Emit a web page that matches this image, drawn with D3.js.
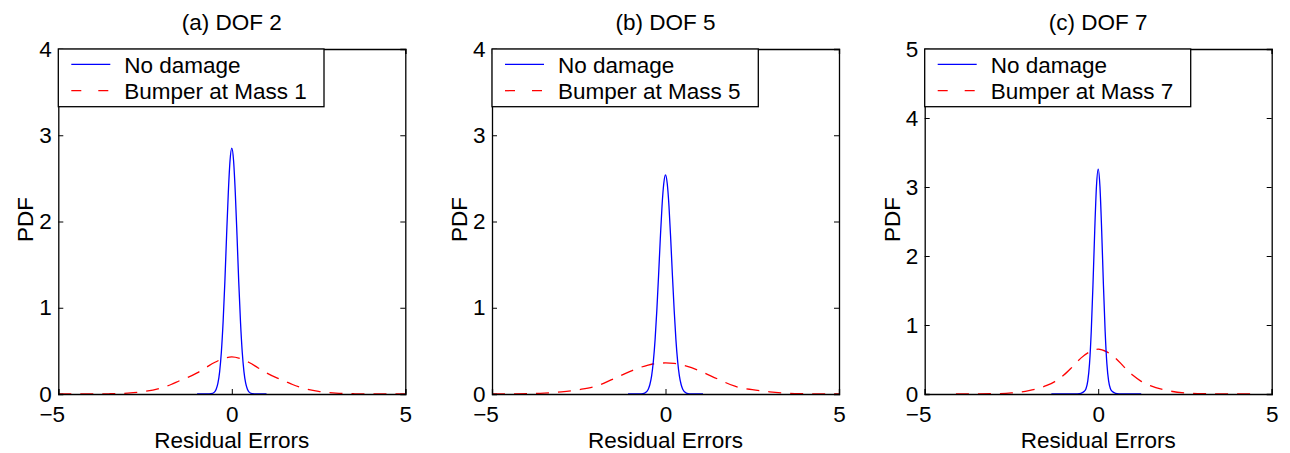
<!DOCTYPE html>
<html>
<head>
<meta charset="utf-8">
<script src="https://cdn.jsdelivr.net/npm/d3@7/dist/d3.min.js"></script>
<style>
  body { margin: 0; background: #fff; }
  svg { display: block; font-family: "Liberation Sans", Arial, Helvetica, sans-serif; }
</style>
</head>
<body>
<svg id="chart" width="1290" height="453"></svg>
<script>
// Panel titles and legend labels
var titles = ['(a) DOF 2', '(b) DOF 5', '(c) DOF 7'];
var damageLabels = ['Bumper at Mass 1', 'Bumper at Mass 5', 'Bumper at Mass 7'];
var yMaxes = [4, 4, 5];
var xTicks = [-5, 0, 5];

// PDF curves, [residual error, pdf]
var noDamage2 = [[-1.0, 0], [-0.7, 0], [-0.6, 0.003], [-0.5, 0.022], [-0.45, 0.055], [-0.4, 0.125],
  [-0.35, 0.26], [-0.3, 0.49], [-0.25, 0.84], [-0.2, 1.30], [-0.15, 1.84], [-0.1, 2.34], [-0.05, 2.71],
  [0, 2.85], [0.05, 2.71], [0.1, 2.34], [0.15, 1.84], [0.2, 1.30], [0.25, 0.84], [0.3, 0.49],
  [0.35, 0.26], [0.4, 0.125], [0.45, 0.055], [0.5, 0.022], [0.6, 0.003], [0.7, 0], [1.0, 0]];
var bumper1 = [[-5, 0], [-4, 0], [-3.5, 0.003], [-3, 0.01], [-2.5, 0.03], [-2, 0.075], [-1.75, 0.11],
  [-1.5, 0.155], [-1.25, 0.195], [-1, 0.245], [-0.75, 0.305], [-0.5, 0.365], [-0.25, 0.41], [0, 0.43],
  [0.25, 0.41], [0.5, 0.365], [0.75, 0.305], [1, 0.245], [1.25, 0.195], [1.5, 0.155], [1.75, 0.11],
  [2, 0.075], [2.5, 0.03], [3, 0.01], [3.5, 0.003], [4, 0], [5, 0]];

var noDamage5 = [[-1.08, 0], [-0.8, 0], [-0.7, 0.001], [-0.6, 0.01], [-0.5, 0.053], [-0.45, 0.11],
  [-0.4, 0.21], [-0.35, 0.38], [-0.3, 0.63], [-0.25, 0.97], [-0.2, 1.37], [-0.15, 1.80], [-0.1, 2.18],
  [-0.05, 2.44], [0, 2.54], [0.05, 2.44], [0.1, 2.18], [0.15, 1.80], [0.2, 1.37], [0.25, 0.97],
  [0.3, 0.63], [0.35, 0.38], [0.4, 0.21], [0.45, 0.11], [0.5, 0.053], [0.6, 0.01], [0.7, 0.001],
  [0.8, 0], [1.08, 0]];
var bumper5 = [[-5, 0], [-4.5, 0.001], [-4, 0.004], [-3.5, 0.01], [-3, 0.025], [-2.5, 0.05], [-2, 0.09],
  [-1.5, 0.175], [-1, 0.265], [-0.75, 0.305], [-0.5, 0.335], [-0.25, 0.355], [0, 0.36], [0.25, 0.355],
  [0.5, 0.335], [0.75, 0.305], [1, 0.265], [1.5, 0.175], [2, 0.09], [2.5, 0.05], [3, 0.025],
  [3.5, 0.01], [4, 0.004], [4.5, 0.001], [5, 0]];

var noDamage7 = [[-1.35, 0], [-0.8, 0], [-0.6, 0.003], [-0.5, 0.01], [-0.4, 0.04], [-0.35, 0.08],
  [-0.3, 0.19], [-0.25, 0.44], [-0.2, 0.91], [-0.15, 1.59], [-0.1, 2.37], [-0.05, 3.01], [0, 3.26],
  [0.05, 3.01], [0.1, 2.37], [0.15, 1.59], [0.2, 0.91], [0.25, 0.44], [0.3, 0.19], [0.35, 0.08],
  [0.4, 0.04], [0.5, 0.01], [0.6, 0.003], [0.8, 0], [1.24, 0]];
var bumper7 = [[-4.1, 0], [-3, 0.004], [-2.5, 0.015], [-2, 0.05], [-1.5, 0.12], [-1.25, 0.18],
  [-1, 0.27], [-0.75, 0.39], [-0.5, 0.52], [-0.25, 0.61], [0, 0.65], [0.25, 0.61], [0.5, 0.52],
  [0.75, 0.39], [1, 0.27], [1.25, 0.18], [1.5, 0.12], [2, 0.05], [2.5, 0.015], [3, 0.004], [4.5, 0]];

var noDamageSets = [noDamage2, noDamage5, noDamage7];
var bumperSets = [bumper1, bumper5, bumper7];

var svg = d3.select('#chart');
var lefts = [58.3, 492, 924.7];
var legendWidths = [265.7, 266.3, 266];
var plotW = 347, plotTop = 49, plotBottom = 394;
var plotH = plotBottom - plotTop;
var fontSize = 22.5;

titles.forEach(function (title, i) {
    var x = d3.scaleLinear().domain([-5, 5]).range([0, plotW]);
    var y = d3.scaleLinear().domain([0, yMaxes[i]]).range([plotH, 0]);
    var yTicks = d3.range(0, yMaxes[i] + 1);

    var g = svg.append('g').attr('transform', 'translate(' + lefts[i] + ',' + plotTop + ')');

    // Curves
    var line = d3.line()
        .x(function (d) { return x(d[0]); })
        .y(function (d) { return y(d[1]); })
        .curve(d3.curveMonotoneX);

    g.append('path')
        .datum(bumperSets[i])
        .attr('d', line)
        .attr('fill', 'none')
        .attr('stroke', '#ff0000')
        .attr('stroke-width', 1.3)
        .attr('stroke-dasharray', '13,9');

    g.append('path')
        .datum(noDamageSets[i])
        .attr('d', line)
        .attr('fill', 'none')
        .attr('stroke', '#0000ff')
        .attr('stroke-width', 1.3);

    // Axes with inward ticks on all four sides
    var fmt = function (d) { return d < 0 ? '\u2212' + Math.abs(d) : String(d); };
    var xAxis = g.append('g')
        .attr('transform', 'translate(0,' + plotH + ')')
        .call(d3.axisBottom(x).tickValues(xTicks).tickSize(-5).tickPadding(12).tickFormat(fmt));
    xAxis.selectAll('text').filter(function (d) { return d < 0; }).attr('dx', '-0.29em');
    g.append('g')
        .call(d3.axisTop(x).tickValues(xTicks).tickSize(-5).tickFormat(''));
    g.append('g')
        .call(d3.axisLeft(y).tickValues(yTicks).tickSize(-5).tickPadding(6.5).tickFormat(d3.format('d')));
    g.append('g')
        .attr('transform', 'translate(' + plotW + ',0)')
        .call(d3.axisRight(y).tickValues(yTicks).tickSize(-5).tickFormat(''));

    g.selectAll('.domain').attr('stroke', '#000').attr('stroke-width', 1.3);
    g.selectAll('.tick line').attr('stroke', '#000').attr('stroke-width', 1);
    g.selectAll('.tick text')
        .attr('fill', '#000')
        .style('font-size', fontSize + 'px')
        .style('font-family', '"Liberation Sans", Arial, sans-serif');

    // Title and axis labels
    g.append('text')
        .attr('x', plotW / 2)
        .attr('y', 30 - plotTop)
        .attr('text-anchor', 'middle')
        .style('font-size', fontSize + 'px')
        .text(title);
    g.append('text')
        .attr('x', plotW / 2)
        .attr('y', 448 - plotTop)
        .attr('text-anchor', 'middle')
        .style('font-size', fontSize + 'px')
        .text('Residual Errors');
    g.append('text')
        .attr('transform', 'translate(-25,' + (plotH / 2 - 2) + ') rotate(-90)')
        .attr('text-anchor', 'middle')
        .style('font-size', fontSize + 'px')
        .text('PDF');

    // Legend
    var lg = g.append('g');
    lg.append('rect')
        .attr('x', 0).attr('y', 0)
        .attr('width', legendWidths[i])
        .attr('height', 57.7)
        .attr('fill', '#fff')
        .attr('stroke', '#000')
        .attr('stroke-width', 1.3);
    var rows = [
        { label: 'No damage', color: '#0000ff', dash: null },
        { label: damageLabels[i], color: '#ff0000', dash: '10,17' }
    ];
    rows.forEach(function (r, j) {
        var ly = 15.3 + j * 26.4;
        lg.append('line')
            .attr('x1', 13).attr('x2', 52)
            .attr('y1', ly).attr('y2', ly)
            .attr('stroke', r.color)
            .attr('stroke-width', 1.3)
            .attr('stroke-dasharray', r.dash);
        lg.append('text')
            .attr('x', 66)
            .attr('y', ly + 8.2)
            .style('font-size', fontSize + 'px')
            .text(r.label);
    });
});
</script>
</body>
</html>
